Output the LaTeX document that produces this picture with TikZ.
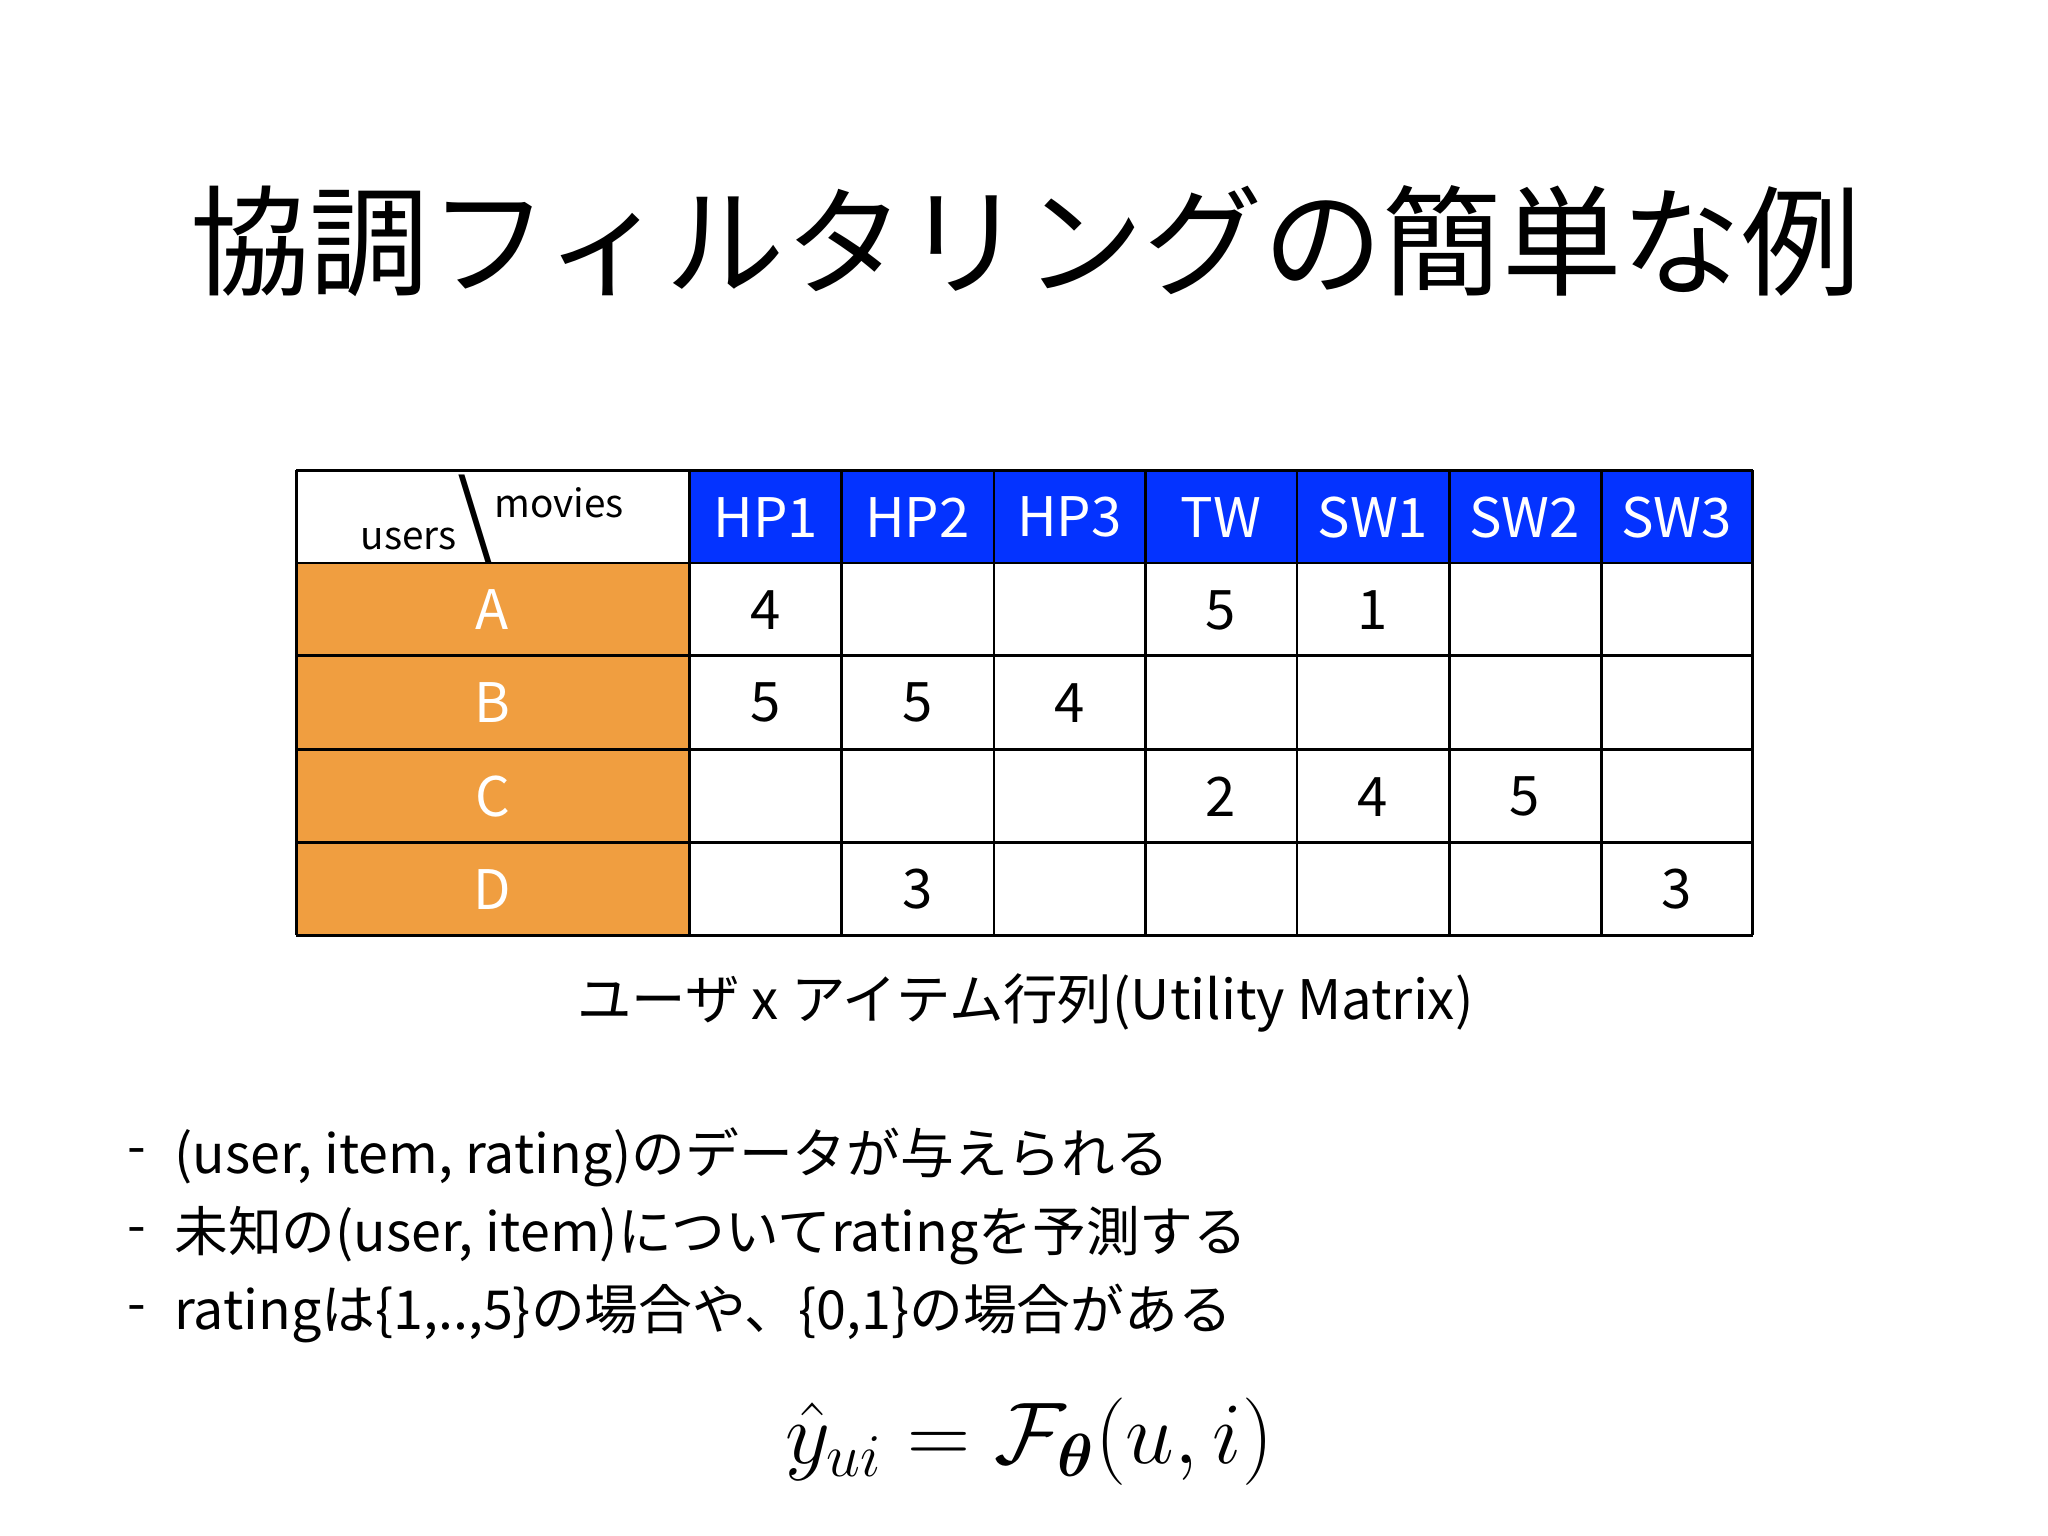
\documentclass[tikz,border=0pt]{standalone}
\usepackage{amsmath,amssymb,bm}
\usepackage{fontspec}
\setmainfont{Noto Sans CJK JP}
\definecolor{hblue}{RGB}{4,51,255}
\definecolor{horange}{RGB}{240,158,64}
\begin{document}
\begin{tikzpicture}[x=0.01306cm,y=-0.01306cm,
  cell/.style={font=\fontsize{15.5}{18}\selectfont},
  hd/.style={cell,text=white},
  bul/.style={anchor=west,font=\fontsize{15.3}{18}\selectfont}]
\useasboundingbox (0,0) rectangle (1568,1176);
\node (title) at (785,185) {\fontsize{34}{40}\selectfont 協調フィルタリングの簡単な例};
% fills
\fill[hblue] (528,360) rectangle (1342,431);
\fill[horange] (227,431) rectangle (528,716);
% grid
\foreach \y in {360,431,502,574,645,716} \draw[line width=0.8pt] (227,\y) -- (1342,\y);
\foreach \x in {227,528,644,761,877,993,1110,1226,1342} \draw[line width=0.8pt] (\x,360) -- (\x,716);
% header
\node[font=\fontsize{11}{13}\selectfont,anchor=base] (us) at (313,421) {users};
\node[font=\fontsize{26}{30}\selectfont\itshape] (bs) at (364,398) {\textbackslash};
\node[font=\fontsize{11}{13}\selectfont,anchor=base] (mv) at (428,396) {movies};
\foreach \t [count=\i] in {HP1,HP2,HP3,TW,SW1,SW2,SW3}
  \node[hd] (h\i) at ({528+(\i-0.5)*116.25},396) {\t};
\foreach \t/\y in {A/467,B/538,C/610,D/681}
  \node[hd] (r\t) at (377,\y) {\t};
% values
\foreach \c/\y/\v in {1/467/4,4/467/5,5/467/1,1/538/5,2/538/5,3/538/4,4/610/2,5/610/4,6/610/5,2/681/3,7/681/3}
  \node[cell] at ({528+(\c-0.5)*116.25},\y) {\v};
\node[font=\fontsize{15.5}{18}\selectfont] (cap) at (785,768) {ユーザ x アイテム行列(Utility Matrix)};
\foreach \y [count=\i] in {886,946,1006} \node[bul] (d\i) at (88,\y) {-};
\node[bul] (b1) at (124,886) {(user, item, rating)のデータが与えられる};
\node[bul] (b2) at (124,946) {未知の(user, item)についてratingを予測する};
\node[bul] (b3) at (124,1006) {ratingは\{1,..,5\}の場合や、\{0,1\}の場合がある};
\node[font=\fontsize{23}{26}\selectfont] (eq) at (788,1104) {$\hat{y}_{ui} = \mathcal{F}_{\bm{\theta}}(u,i)$};
\end{tikzpicture}
\end{document}
